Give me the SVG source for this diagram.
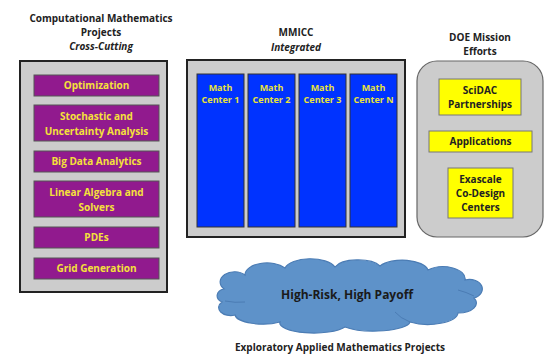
<svg xmlns="http://www.w3.org/2000/svg" width="548" height="355" viewBox="0 0 548 355">
<style>
text{font-family:"Open Sans","Liberation Sans",sans-serif;font-weight:bold;text-anchor:middle}
.title{font-size:10px;fill:#222}
.it{font-style:italic}
.panel{fill:#cccccc;stroke:#222;stroke-width:2}
.pbox{fill:#911a8e;stroke:#555;stroke-width:1}
.ptxt{font-size:10px;fill:#f5e13a}
.bbox{fill:#0033ff;stroke:#333;stroke-width:1}
.btxt{font-size:9px;fill:#e8e23a}
.ybox{fill:#ffff00;stroke:#777;stroke-width:1}
.ytxt{font-size:10px;fill:#222}
</style>
<rect width="548" height="355" fill="#fff"/>

<g id="left-panel">
<text class="title" x="101" y="22">Computational Mathematics</text>
<text class="title" x="101" y="36">Projects</text>
<text class="title it" x="101" y="50">Cross-Cutting</text>
<rect class="panel" x="20" y="61" width="147" height="231"/>
</g>
<g id="optimization"><rect class="pbox" x="34" y="75" width="125" height="21"/><text class="ptxt" x="96.5" y="89">Optimization</text></g>
<g id="stochastic"><rect class="pbox" x="34" y="105" width="125" height="36"/><text class="ptxt" x="96.5" y="120">Stochastic and</text><text class="ptxt" x="96.5" y="135">Uncertainty Analysis</text></g>
<g id="bigdata"><rect class="pbox" x="34" y="151" width="125" height="21"/><text class="ptxt" x="96.5" y="165">Big Data Analytics</text></g>
<g id="linalg"><rect class="pbox" x="34" y="181" width="125" height="36"/><text class="ptxt" x="96.5" y="196">Linear Algebra and</text><text class="ptxt" x="96.5" y="211">Solvers</text></g>
<g id="pdes"><rect class="pbox" x="34" y="227" width="125" height="21"/><text class="ptxt" x="96.5" y="241">PDEs</text></g>
<g id="grid"><rect class="pbox" x="34" y="258" width="125" height="21"/><text class="ptxt" x="96.5" y="272">Grid Generation</text></g>

<g id="mid-panel">
<text class="title" x="296" y="36">MMICC</text>
<text class="title it" x="296" y="51">Integrated</text>
<rect class="panel" x="187" y="60" width="218" height="177"/>
</g>
<g id="center1"><rect class="bbox" x="197" y="74" width="47" height="153"/><text class="btxt" x="220.5" y="91">Math</text><text class="btxt" x="220.5" y="103">Center 1</text></g>
<g id="center2"><rect class="bbox" x="248" y="74" width="47" height="153"/><text class="btxt" x="271.5" y="91">Math</text><text class="btxt" x="271.5" y="103">Center 2</text></g>
<g id="center3"><rect class="bbox" x="299" y="74" width="47" height="153"/><text class="btxt" x="322.5" y="91">Math</text><text class="btxt" x="322.5" y="103">Center 3</text></g>
<g id="centerN"><rect class="bbox" x="350" y="74" width="47" height="153"/><text class="btxt" x="373.5" y="91">Math</text><text class="btxt" x="373.5" y="103">Center N</text></g>

<g id="right-panel">
<text class="title" x="480" y="41">DOE Mission</text>
<text class="title" x="480" y="55">Efforts</text>
<rect x="417" y="61" width="126" height="176" rx="20" fill="#cccccc" stroke="#666" stroke-width="1.2"/>
</g>
<g id="scidac"><rect class="ybox" x="439" y="79" width="82" height="36"/><text class="ytxt" x="480" y="94">SciDAC</text><text class="ytxt" x="480" y="108">Partnerships</text></g>
<g id="applications"><rect class="ybox" x="429" y="131" width="103" height="21"/><text class="ytxt" x="480.5" y="145">Applications</text></g>
<g id="exascale"><rect class="ybox" x="448" y="168" width="65" height="50"/><text class="ytxt" x="480.5" y="183">Exascale</text><text class="ytxt" x="480.5" y="197">Co-Design</text><text class="ytxt" x="480.5" y="211">Centers</text></g>

<g id="cloud">
<path d="M224,289 A14,10 0 0 1 245,275 A22,12 0 0 1 285,268 A26,12 0 0 1 335,267 A24,10 0 0 1 380,266 A26,12 0 0 1 428,270 A22,12 0 0 1 465,280 A12,9 0 0 1 474,298 A18,10 0 0 1 458,313 A30,12 0 0 1 410,322 A36,10 0 0 1 345,327 A34,10 0 0 1 280,322 A28,10 0 0 1 235,315 A12,8 0 0 1 222,302 A9,7 0 0 1 224,289 Z" fill="#5e92c9" stroke="#4b7cb4" stroke-width="1.2"/>
<path d="M225,301 Q235,303 245,302 M458,290 Q466,292 474,296 M410,322 Q400,318 395,312" fill="none" stroke="#4b7cb4" stroke-width="1"/>
<text x="347" y="299" style="font-size:12px;fill:#1a1a1a">High-Risk, High Payoff</text>
</g>
<g id="exploratory"><text class="title" x="340" y="351">Exploratory Applied Mathematics Projects</text></g>
</svg>
